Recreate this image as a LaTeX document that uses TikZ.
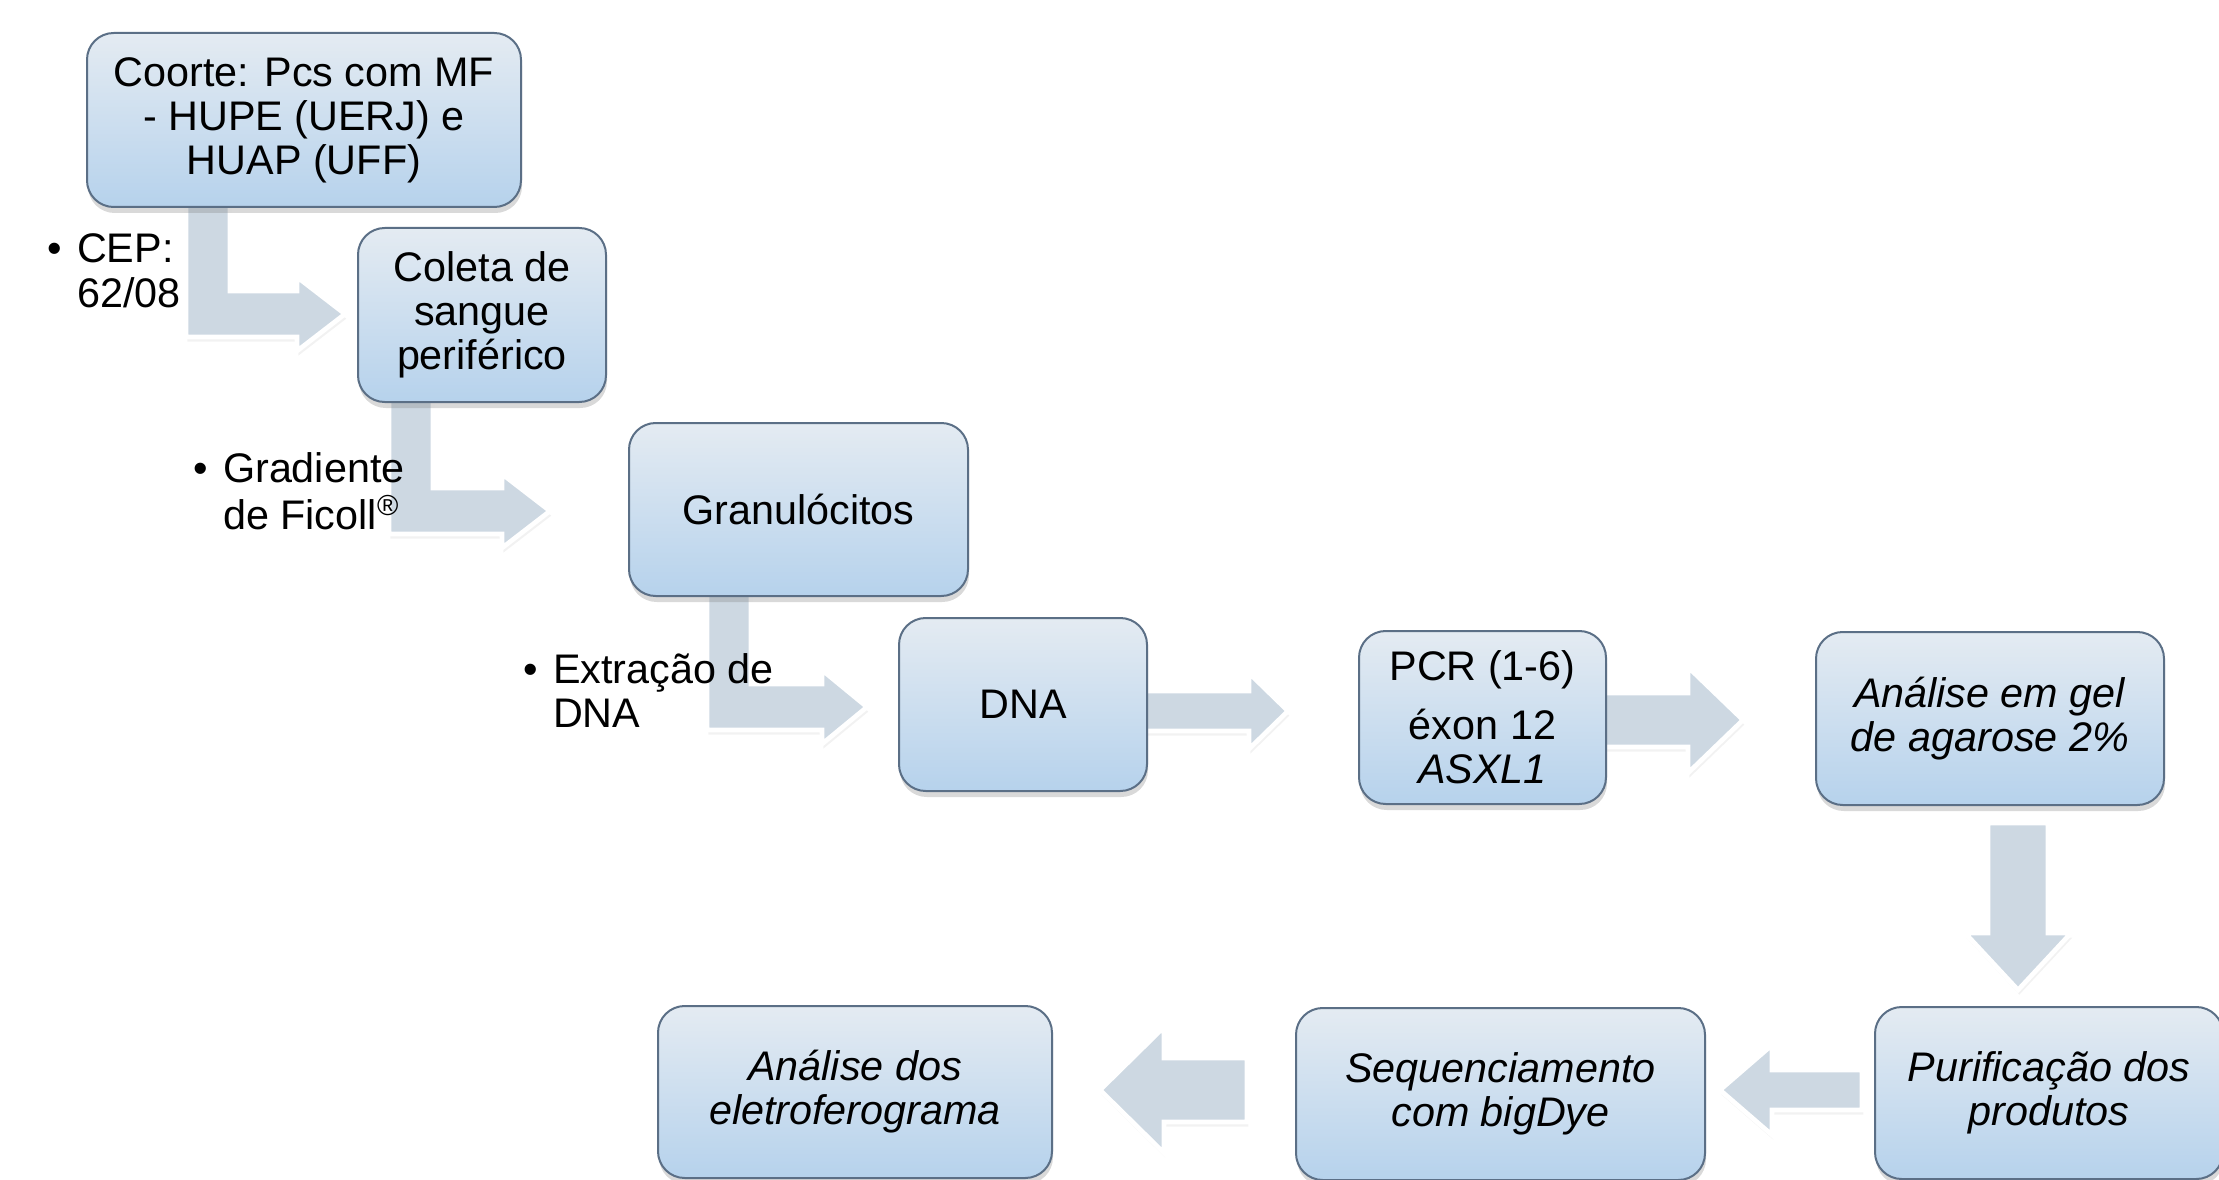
\documentclass[tikz,border=0pt]{standalone}
\usepackage{fontspec}
\setmainfont{Liberation Sans}
\usetikzlibrary{shadows,backgrounds}
\definecolor{boxtop}{HTML}{E4EBF2}
\definecolor{boxbot}{HTML}{B6D2EC}
\definecolor{boxline}{HTML}{5B6F86}
\definecolor{arrfill}{HTML}{CDD8E2}
\tikzset{
  stepbox/.style 2 args={draw=boxline, line width=0.6pt, rounded corners=8pt,
    top color=boxtop, bottom color=boxbot,
    minimum width=#1*0.3pt, minimum height=#2*0.3pt, inner sep=0pt,
    align=center, font=\fontsize{12.4}{13.2}\selectfont,
    drop shadow={opacity=0.3, shadow xshift=0.3pt, shadow yshift=-1.8pt}},
  blockarrow/.style={fill=arrfill, draw=white, line width=1.4pt, line join=miter,
    drop shadow={opacity=0.1, shadow xshift=0.4pt, shadow yshift=-1.4pt}},
  bullettext/.style={anchor=base west, inner sep=0pt, font=\fontsize{12.4}{13.2}\selectfont}
}
% bent arrow: stem left x, stem top y, centre y of horizontal shaft, head base x, tip x
\newcommand\myBentArrow[5]{%
  \draw[blockarrow] (#1,#2) -- (#1,#3+23) -- (#4,#3+23) -- (#4,#3+37) -- (#5,#3)
    -- (#4,#3-37) -- (#4,#3-23) -- (#1+44,#3-23) -- (#1+44,#2) -- cycle;}
% horizontal arrow: shaft start x, centre y, shaft half, head base x, tip x, head half
\newcommand\myHArrow[6]{%
  \draw[blockarrow] (#1,#2-#3) -- (#4,#2-#3) -- (#4,#2-#6) -- (#5,#2)
    -- (#4,#2+#6) -- (#4,#2+#3) -- (#1,#2+#3) -- cycle;}
% vertical arrow: centre x, shaft start y, shaft half, head base y, tip y, head half
\newcommand\myVArrow[6]{%
  \draw[blockarrow] (#1-#3,#2) -- (#1-#3,#4) -- (#1-#6,#4) -- (#1,#5)
    -- (#1+#6,#4) -- (#1+#3,#4) -- (#1+#3,#2) -- cycle;}
\begin{document}
\begin{tikzpicture}[x=0.3pt,y=-0.3pt]
\useasboundingbox (0,0) rectangle (2219,1180);
\clip (0,0) rectangle (2219,1180);

% process boxes
\node[stepbox={434}{174}] (coorte) at (304,120) {Coorte: Pcs com MF\\- HUPE (UERJ) e\\HUAP (UFF)};
\node[stepbox={248}{174}] (coleta) at (482,315) {Coleta de\\sangue\\periférico};
\node[stepbox={339}{173}] (gran) at (798.5,509.5) {Granulócitos};
\node[stepbox={248}{173}] (dna) at (1023,704.5) {DNA};
\node[stepbox={247}{173}] (pcr) at (1482.5,717.5) {PCR (1-6)\\[4.5pt]éxon 12\\\textit{ASXL1}};
\node[stepbox={348}{173}] (gel) at (1990,718.5) {\textit{Análise em gel}\\\textit{de agarose 2\%}};
\node[stepbox={348}{172}] (purif) at (2049,1093) {\textit{Purificação dos}\\\textit{produtos}};
\node[stepbox={409}{172}] (seq) at (1500.5,1094) {\textit{Sequenciamento}\\\textit{com bigDye}};
\node[stepbox={394}{172}] (anal) at (855,1092) {\textit{Análise dos}\\\textit{eletroferograma}};

% bullet notes
\node[bullettext] (cep) at (47,263) {\begin{tabular}[t]{@{}l@{\hspace{4.5pt}}l@{}}•&CEP:\\&62/08\end{tabular}};
\node[bullettext] (ficoll) at (193,482) {\begin{tabular}[t]{@{}l@{\hspace{4.5pt}}l@{}}•&Gradiente\\&de Ficoll\textsuperscript{®}\end{tabular}};
\node[bullettext] (extr) at (523,683) {\begin{tabular}[t]{@{}l@{\hspace{4.5pt}}l@{}}•&Extração de\\&DNA\end{tabular}};

% block arrows behind everything
\begin{scope}[on background layer]
  \myBentArrow{186}{200}{314}{297}{345}
  \myBentArrow{389}{395}{511}{502}{550}
  \myBentArrow{707}{589}{707}{822}{867}
  \myHArrow{1140}{711}{20}{1249}{1288}{38}
  \myHArrow{1600}{720}{27}{1688}{1743}{53}
  \myVArrow{2018}{823}{30}{933}{990}{53}
  \myHArrow{1862}{1090}{20}{1772}{1720}{45}
  \myHArrow{1247}{1090}{32}{1164}{1100}{63}
\end{scope}
\end{tikzpicture}
\end{document}
